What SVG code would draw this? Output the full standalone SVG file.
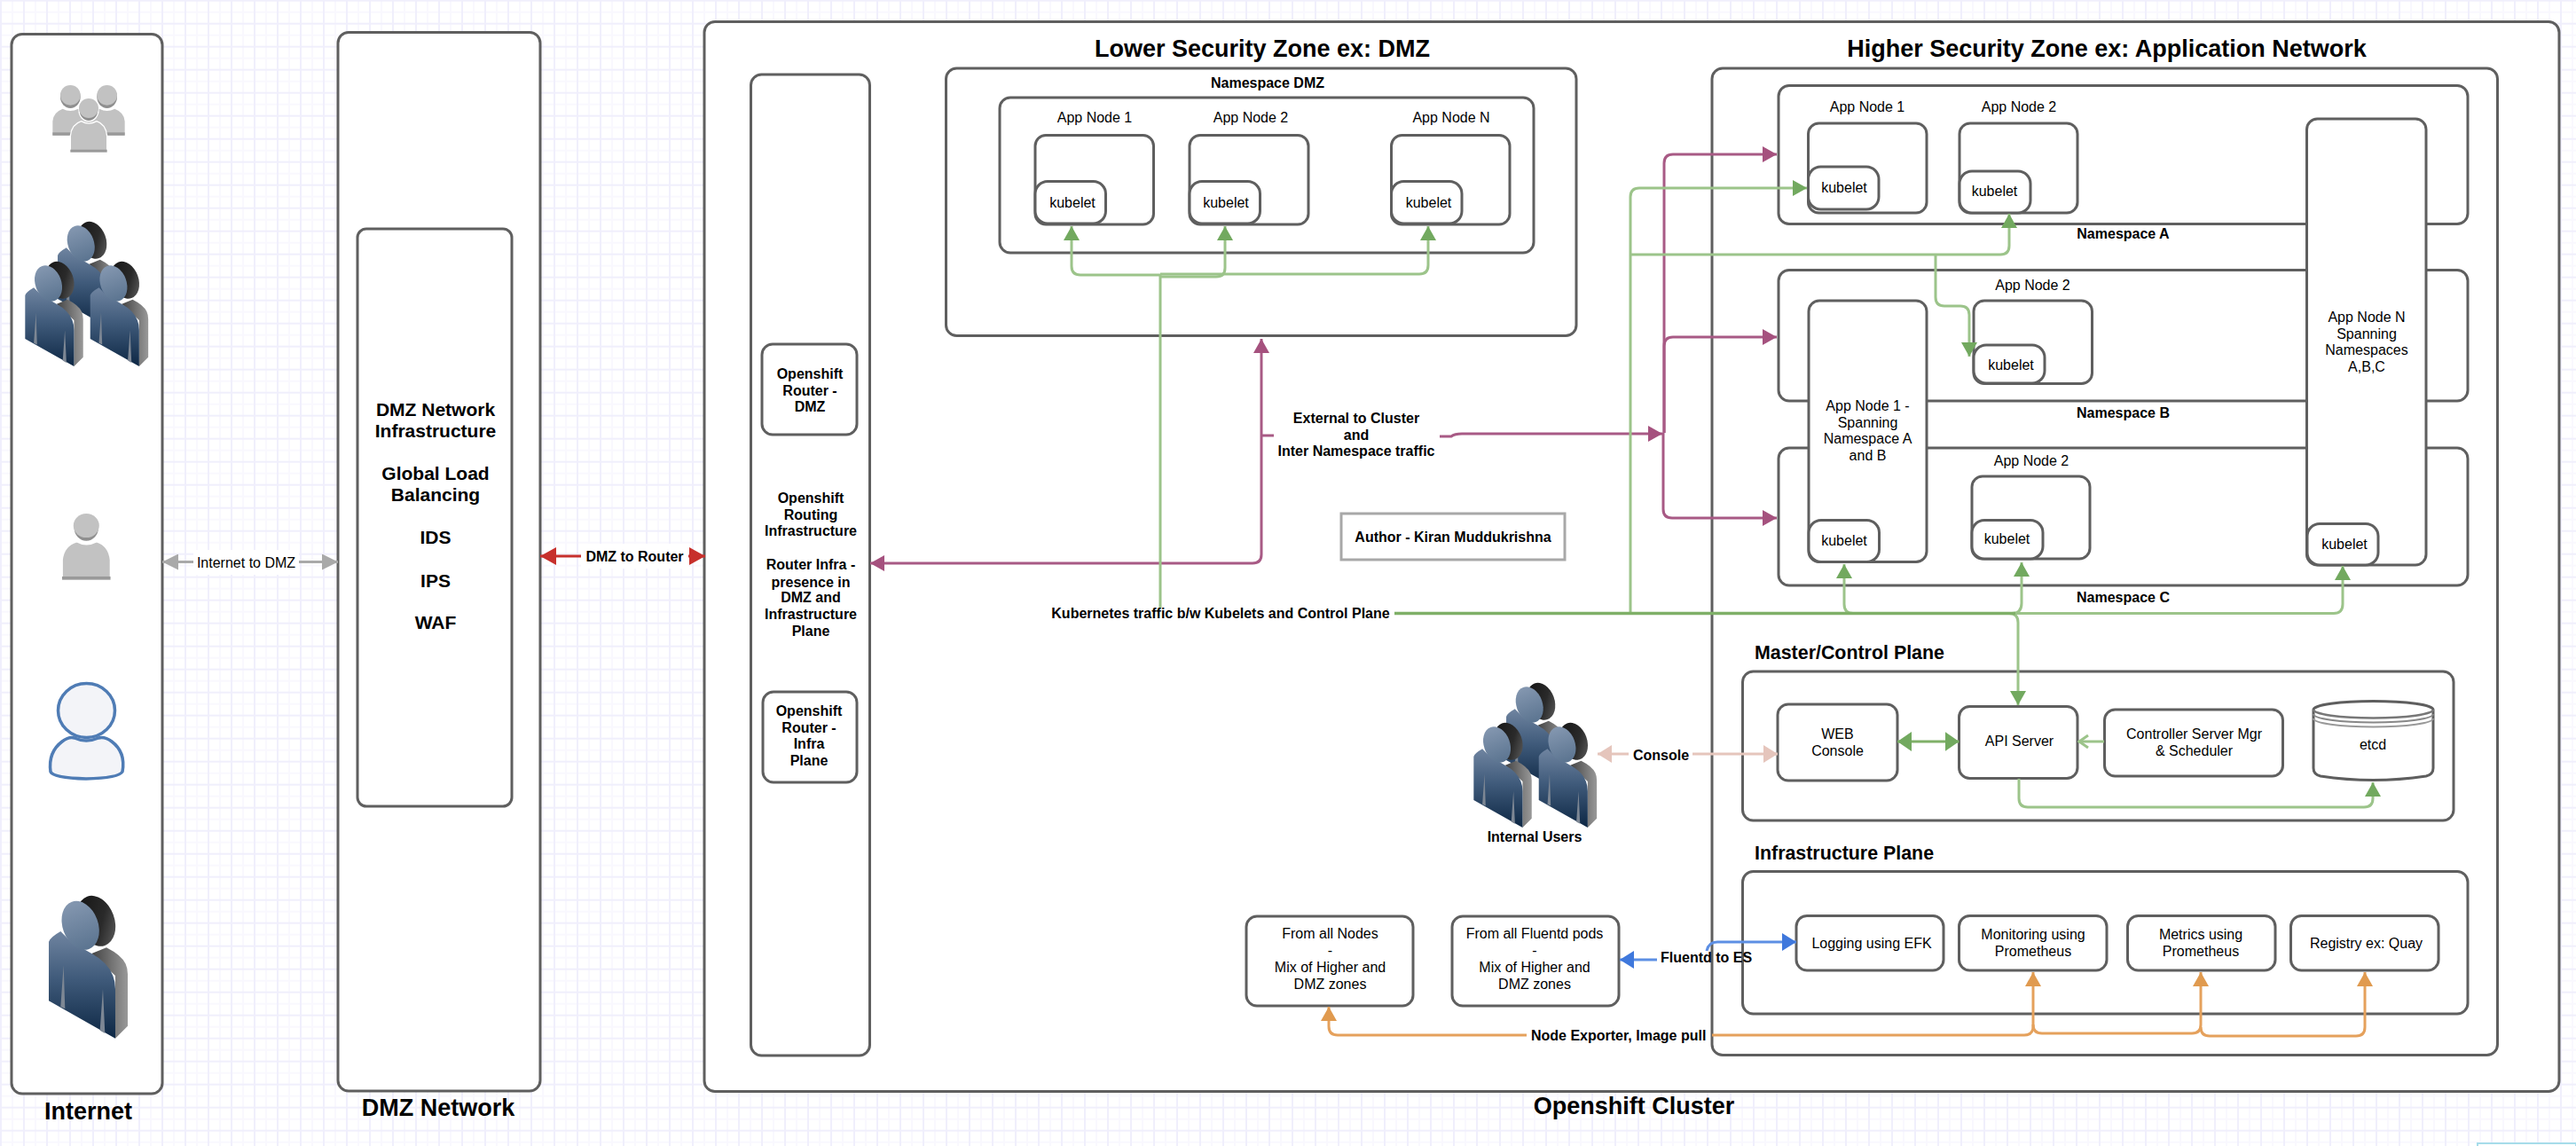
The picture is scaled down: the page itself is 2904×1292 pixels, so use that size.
<svg xmlns="http://www.w3.org/2000/svg" xmlns:xlink="http://www.w3.org/1999/xlink" width="2904" height="1292" viewBox="0 0 2904 1292">
<style>
text{font-family:"Liberation Sans",Arial,sans-serif;fill:#000;text-anchor:middle;font-size:16px}
.b{font-weight:bold}
.l{text-anchor:start}
.h{font-weight:bold;font-size:27px}
.m{font-weight:bold;font-size:21.4px}
.box{fill:#fff;stroke:#5e5e5e;stroke-width:3;filter:url(#soft)}
.c{fill:none;stroke-width:3}
.g{stroke:#9cc48a;marker-end:url(#hg)}
.gn{stroke:#9cc48a}
.gd{stroke:#7fb068;stroke-width:3.5}
.p{stroke:#a85a85;marker-end:url(#hp)}
.pn{stroke:#a85a85}
.o{stroke:#e5a15c;marker-end:url(#ho)}
.on{stroke:#e5a15c}
</style>
<defs>
<filter id="soft" x="-5%" y="-5%" width="110%" height="110%"><feGaussianBlur stdDeviation="0.6"/></filter>
<pattern id="grid" patternUnits="userSpaceOnUse" x="0" y="-0.33" width="26" height="26">
<rect width="26" height="26" fill="#fff"/>
<rect x="13" width="2" height="26" fill="#f9f8fe"/><rect y="13" width="26" height="2" fill="#f9f8fe"/>
<rect width="2" height="26" fill="#f0effc"/><rect width="26" height="2" fill="#f0effc"/>
</pattern>
<marker id="hg" markerUnits="userSpaceOnUse" markerWidth="16" markerHeight="18" viewBox="0 0 16 18" refX="16" refY="9" orient="auto-start-reverse"><path d="M0,0L16,9L0,18Z" fill="#72a95f"/></marker>
<marker id="hp" markerUnits="userSpaceOnUse" markerWidth="16" markerHeight="18" viewBox="0 0 16 18" refX="16" refY="9" orient="auto-start-reverse"><path d="M0,0L16,9L0,18Z" fill="#a5517e"/></marker>
<marker id="ho" markerUnits="userSpaceOnUse" markerWidth="16" markerHeight="18" viewBox="0 0 16 18" refX="16" refY="9" orient="auto-start-reverse"><path d="M0,0L16,9L0,18Z" fill="#e09a4f"/></marker>
<marker id="hgy" markerUnits="userSpaceOnUse" markerWidth="18" markerHeight="18" viewBox="0 0 18 18" refX="18" refY="9" orient="auto-start-reverse"><path d="M0,0L18,9L0,18Z" fill="#a9a9a9"/></marker>
<marker id="hr" markerUnits="userSpaceOnUse" markerWidth="18" markerHeight="20" viewBox="0 0 18 20" refX="18" refY="10" orient="auto-start-reverse"><path d="M0,0L18,10L0,20Z" fill="#c7302c"/></marker>
<marker id="hl" markerUnits="userSpaceOnUse" markerWidth="16" markerHeight="20" viewBox="0 0 16 20" refX="16" refY="10" orient="auto-start-reverse"><path d="M0,0L16,10L0,20Z" fill="#e5c5bc"/></marker>
<marker id="hb" markerUnits="userSpaceOnUse" markerWidth="16" markerHeight="20" viewBox="0 0 16 20" refX="16" refY="10" orient="auto-start-reverse"><path d="M0,0L16,10L0,20Z" fill="#3f78dc"/></marker>
<marker id="hv" markerUnits="userSpaceOnUse" markerWidth="13" markerHeight="16" viewBox="0 0 13 16" refX="12" refY="8" orient="auto"><path d="M1,1L11,8L1,15" fill="none" stroke="#9cc48a" stroke-width="3"/></marker>
<marker id="hd" markerUnits="userSpaceOnUse" markerWidth="16" markerHeight="22" viewBox="0 0 16 22" refX="16" refY="11" orient="auto-start-reverse"><path d="M0,0L16,11L0,22Z" fill="#72a95f"/></marker>
<linearGradient id="gf" x1="0" y1="0" x2="0" y2="1"><stop offset="0" stop-color="#6f84a0"/><stop offset="0.45" stop-color="#3f5a7a"/><stop offset="1" stop-color="#0d2744"/></linearGradient>
<linearGradient id="gh" x1="0" y1="0" x2="0" y2="1"><stop offset="0" stop-color="#8497b0"/><stop offset="1" stop-color="#5b7490"/></linearGradient>
<linearGradient id="gb" x1="0" y1="0" x2="1" y2="1"><stop offset="0" stop-color="#111"/><stop offset="0.6" stop-color="#2a2a2a"/><stop offset="1" stop-color="#666"/></linearGradient>
<linearGradient id="gs" x1="0" y1="0" x2="1" y2="0"><stop offset="0" stop-color="#444"/><stop offset="1" stop-color="#999"/></linearGradient>
<g id="person">
<ellipse cx="205" cy="115" rx="62" ry="88" transform="rotate(-20 205 115)" fill="url(#gb)"/>
<path d="M190,225L240,205Q290,230 305,260Q312,275 312,295V470L270,512V300Z" fill="url(#gs)"/>
<path d="M45,385V185Q50,170 85,150L120,185L190,225Q245,255 262,300Q270,320 270,345V512Z" fill="url(#gf)"/>
<path d="M95,265L85,405L100,412Z M228,345L218,485L235,495Z" fill="#7d8794"/>
<ellipse cx="152" cy="130" rx="60" ry="85" transform="rotate(-20 152 130)" fill="url(#gh)"/>
</g>
<g id="crowd">
<use xlink:href="#person" transform="translate(54 242.6) scale(.245)"/>
<use xlink:href="#person" transform="translate(17.3 287.6) scale(.245)"/>
<use xlink:href="#person" transform="translate(90.7 287.6) scale(.245)"/>
</g>
<g id="gp">
<path d="M88,245V190Q92,150 125,140Q150,155 177,140Q208,150 212,190V245Z" fill="#c2c2c2" stroke="#fff" stroke-width="4"/>
<rect x="88" y="236" width="124" height="9" fill="#999"/>
<ellipse cx="150" cy="102" rx="33" ry="38" fill="#8f8f8f" stroke="#fff" stroke-width="4"/>
<ellipse cx="150" cy="96" rx="33" ry="33" fill="#c2c2c2"/>
</g>
</defs>
<rect id="background" width="2904" height="1292" fill="url(#grid)"/>
<rect id="fragment" x="2793" y="1289" width="111" height="10" fill="#fff" stroke="#a6dcea" stroke-width="2"/>

<g id="internet">
<rect class="box" x="13" y="38.5" width="170" height="1194.5" rx="12"/>
<g id="icon-group-grey" transform="translate(50 90) scale(.3333)">
<g id="gl"><path d="M28,188V140Q30,110 62,98Q88,112 114,98Q135,105 150,125V188Z" fill="#c2c2c2"/><rect x="28" y="178" width="62" height="10" fill="#999"/><ellipse cx="88" cy="58" rx="34" ry="38" fill="#8f8f8f"/><ellipse cx="88" cy="52" rx="34" ry="34" fill="#c2c2c2"/></g>
<path d="M272,188V140Q270,110 238,98Q212,112 186,98Q165,105 150,125V188Z" fill="#c2c2c2"/><rect x="210" y="178" width="62" height="10" fill="#999"/><ellipse cx="212" cy="58" rx="34" ry="38" fill="#8f8f8f"/><ellipse cx="212" cy="52" rx="34" ry="34" fill="#c2c2c2"/>
<use xlink:href="#gp"/>
</g>
<use id="icon-crowd" xlink:href="#crowd"/>
<use id="icon-grey-user" xlink:href="#gp" transform="translate(31.3 553.2) scale(.44 .41)"/>
<g id="icon-blue-user" fill="#f3f4f8" stroke="#4f7cb5" stroke-width="3.5">
<path d="M57,870Q54,848 70,836Q78,830 84,832Q97,838 111,832Q118,830 126,836Q142,848 138,870Q134,877 97,878Q60,877 57,870Z"/>
<ellipse cx="97.5" cy="801" rx="32" ry="30.5"/>
</g>
<use id="icon-user" xlink:href="#person" transform="translate(40 1000) scale(.3333)"/>
<text class="h" x="99.5" y="1261.5">Internet</text>
</g>

<g id="dmz-network">
<rect class="box" x="381" y="36.5" width="228" height="1193.5" rx="12"/>
<rect class="box" x="403" y="258" width="174" height="651" rx="10"/>
<text class="m" x="491" style="font-size:21px"><tspan x="491" y="468.5">DMZ Network</tspan><tspan x="491" y="493">Infrastructure</tspan><tspan x="491" y="541">Global Load</tspan><tspan x="491" y="565">Balancing</tspan><tspan x="491" y="613">IDS</tspan><tspan x="491" y="661.5">IPS</tspan><tspan x="491" y="709">WAF</tspan></text>
<text class="h" x="494" y="1257.5">DMZ Network</text>
</g>

<g id="openshift-cluster">
<rect class="box" x="794" y="24.5" width="2091" height="1206" rx="12"/>
<text class="h" x="1842" y="1256">Openshift Cluster</text>
<text class="h" x="1423" y="64">Lower Security Zone ex: DMZ</text>
<text class="h" x="2375" y="64">Higher Security Zone ex: Application Network</text>
</g>

<g id="router-infra">
<rect class="box" x="846.5" y="84" width="134" height="1106" rx="12"/>
<text class="b"><tspan x="914" y="567">Openshift</tspan><tspan x="914" y="586">Routing</tspan><tspan x="914" y="604">Infrastructure</tspan><tspan x="914" y="641.5">Router Infra -</tspan><tspan x="914" y="661.5">presence in</tspan><tspan x="914" y="679">DMZ and</tspan><tspan x="914" y="697.5">Infrastructure</tspan><tspan x="914" y="716.5">Plane</tspan></text>
</g>
<g id="router-dmz">
<rect class="box" x="859" y="388" width="107" height="102" rx="12"/>
<text class="b"><tspan x="913" y="427">Openshift</tspan><tspan x="913" y="446">Router -</tspan><tspan x="913" y="464">DMZ</tspan></text>
</g>
<g id="router-infra-plane">
<rect class="box" x="860" y="780" width="106" height="102" rx="12"/>
<text class="b"><tspan x="912" y="807">Openshift</tspan><tspan x="912" y="826">Router -</tspan><tspan x="912" y="844">Infra</tspan><tspan x="912" y="863">Plane</tspan></text>
</g>

<g id="namespace-dmz">
<rect class="box" x="1066.5" y="77" width="710.5" height="301.5" rx="12"/>
<text class="b" x="1429" y="99">Namespace DMZ</text>
<rect class="box" x="1127" y="110" width="602" height="175" rx="12"/>
</g>
<g id="dmz-node-1">
<text x="1234" y="138">App Node 1</text>
<rect class="box" x="1167" y="152.5" width="133.5" height="100.5" rx="12"/>
<rect class="box" x="1167" y="204.5" width="79.5" height="47.5" rx="14"/>
<text x="1209" y="234">kubelet</text>
</g>
<g id="dmz-node-2">
<text x="1410" y="138">App Node 2</text>
<rect class="box" x="1341" y="152.5" width="134" height="100.5" rx="12"/>
<rect class="box" x="1341" y="204.5" width="79.5" height="47.5" rx="14"/>
<text x="1382" y="234">kubelet</text>
</g>
<g id="dmz-node-n">
<text x="1636" y="138">App Node N</text>
<rect class="box" x="1568.5" y="152.5" width="133.5" height="100.5" rx="12"/>
<rect class="box" x="1568.5" y="204.5" width="79.5" height="47.5" rx="14"/>
<text x="1610.5" y="234">kubelet</text>
</g>

<g id="author">
<rect x="1512" y="579" width="252" height="52" fill="#fff" stroke="#a8a8a8" stroke-width="3"/>
<text class="b" x="1638" y="611">Author - Kiran Muddukrishna</text>
</g>

<g id="higher-zone">
<rect class="box" x="1930" y="77" width="885.5" height="1112.5" rx="12"/>
</g>
<g id="namespace-a">
<rect class="box" x="2005" y="96.5" width="777" height="156" rx="12"/>
<text class="b" x="2393.5" y="269">Namespace A</text>
</g>
<g id="namespace-b">
<rect class="box" x="2005" y="304.5" width="777" height="147.5" rx="12"/>
<text class="b" x="2393.5" y="471">Namespace B</text>
</g>
<g id="namespace-c">
<rect class="box" x="2005" y="505" width="777" height="155" rx="12"/>
<text class="b" x="2393.5" y="678.5">Namespace C</text>
</g>
<g id="a-node-1">
<text x="2105" y="126">App Node 1</text>
<rect class="box" x="2038.5" y="139" width="133.5" height="101" rx="12"/>
<rect class="box" x="2038.5" y="188" width="79.5" height="48" rx="14"/>
<text x="2079" y="216.5">kubelet</text>
</g>
<g id="a-node-2">
<text x="2276" y="126">App Node 2</text>
<rect class="box" x="2209" y="139" width="133" height="101" rx="12"/>
<rect class="box" x="2209" y="193" width="80" height="47" rx="14"/>
<text x="2248.5" y="221">kubelet</text>
</g>
<g id="b-node-2">
<text x="2291.5" y="327">App Node 2</text>
<rect class="box" x="2225" y="339" width="133.5" height="93.5" rx="12"/>
<rect class="box" x="2225" y="389" width="80" height="43" rx="14"/>
<text x="2267" y="416.5">kubelet</text>
</g>
<g id="spanning-node-1">
<rect class="box" x="2039" y="339" width="133" height="294.5" rx="12"/>
<text><tspan x="2105.5" y="463">App Node 1 -</tspan><tspan x="2105.5" y="482">Spanning</tspan><tspan x="2105.5" y="500">Namespace A</tspan><tspan x="2105.5" y="519">and B</tspan></text>
<rect class="box" x="2039" y="586.5" width="79.5" height="47" rx="14"/>
<text x="2079" y="615">kubelet</text>
</g>
<g id="c-node-2">
<text x="2290" y="524.5">App Node 2</text>
<rect class="box" x="2223" y="537" width="133" height="93" rx="12"/>
<rect class="box" x="2223" y="586.5" width="80" height="43.5" rx="14"/>
<text x="2262.5" y="612.5">kubelet</text>
</g>
<g id="spanning-node-n">
<rect class="box" x="2600.5" y="134" width="134.5" height="503" rx="12"/>
<text><tspan x="2668" y="362.5">App Node N</tspan><tspan x="2668" y="382">Spanning</tspan><tspan x="2668" y="400">Namespaces</tspan><tspan x="2668" y="419">A,B,C</tspan></text>
<rect class="box" x="2601" y="590.5" width="80" height="46.5" rx="14"/>
<text x="2643" y="619">kubelet</text>
</g>

<g id="master-plane">
<text class="m l" x="1978" y="742.5">Master/Control Plane</text>
<rect class="box" x="1964.5" y="757" width="801.5" height="168" rx="12"/>
</g>
<g id="web-console">
<rect class="box" x="2004" y="794" width="135" height="86" rx="12"/>
<text><tspan x="2071.5" y="832.5">WEB</tspan><tspan x="2071.5" y="852">Console</tspan></text>
</g>
<g id="api-server">
<rect class="box" x="2208.5" y="796.5" width="133.5" height="81" rx="12"/>
<text x="2276.5" y="840.5">API Server</text>
</g>
<g id="controller">
<rect class="box" x="2372.5" y="800" width="201" height="75" rx="12"/>
<text><tspan x="2473.5" y="832.5">Controller Server Mgr</tspan><tspan x="2473.5" y="852">&amp; Scheduler</tspan></text>
</g>
<g id="etcd" fill="none" stroke="#5e5e5e" stroke-width="2.5">
<path d="M2608,800A67.5,9.5 0 0 1 2743,800V866Q2743,873 2735,875Q2675,884 2616,875Q2608,873 2608,866Z" fill="#fff" stroke-width="3"/>
<path d="M2608,800A67.5,9.5 0 0 0 2743,800" stroke="#777"/>
<path d="M2608,805A67.5,9.5 0 0 0 2743,805" stroke="#888" stroke-width="2"/>
<path d="M2608,810A67.5,9.5 0 0 0 2743,810" stroke="#999" stroke-width="2"/>
<text x="2675" y="844.5" style="stroke:none">etcd</text>
</g>

<g id="infra-plane">
<text class="m l" x="1978" y="969">Infrastructure Plane</text>
<rect class="box" x="1964.5" y="982.5" width="817.5" height="160.5" rx="12"/>
</g>
<g id="logging">
<rect class="box" x="2025" y="1032.5" width="166" height="61.5" rx="12"/>
<text x="2110" y="1069">Logging using EFK</text>
</g>
<g id="monitoring">
<rect class="box" x="2208.5" y="1032.5" width="166.5" height="61.5" rx="12"/>
<text><tspan x="2292" y="1059">Monitoring using</tspan><tspan x="2292" y="1078">Prometheus</tspan></text>
</g>
<g id="metrics">
<rect class="box" x="2398.5" y="1032.5" width="166.5" height="61.5" rx="12"/>
<text><tspan x="2481" y="1059">Metrics using</tspan><tspan x="2481" y="1078">Prometheus</tspan></text>
</g>
<g id="registry">
<rect class="box" x="2582.5" y="1032.5" width="166.5" height="61.5" rx="12"/>
<text x="2667.5" y="1069">Registry ex: Quay</text>
</g>

<g id="internal-users">
<use xlink:href="#crowd" transform="translate(1633 520)"/>
<text class="b" x="1730" y="949">Internal Users</text>
</g>
<g id="from-all-nodes">
<rect class="box" x="1405" y="1033" width="188" height="101" rx="12"/>
<text><tspan x="1499.5" y="1058">From all Nodes</tspan><tspan x="1499.5" y="1076.5">-</tspan><tspan x="1499.5" y="1096">Mix of Higher and</tspan><tspan x="1499.5" y="1115">DMZ zones</tspan></text>
</g>
<g id="from-fluentd">
<rect class="box" x="1637" y="1033" width="188" height="101" rx="12"/>
<text><tspan x="1730" y="1058">From all Fluentd pods</tspan><tspan x="1730" y="1076.5">-</tspan><tspan x="1730" y="1096">Mix of Higher and</tspan><tspan x="1730" y="1115">DMZ zones</tspan></text>
</g>

<g id="connectors">
<rect x="218" y="620" width="119" height="28" fill="#fff"/>
<rect x="655" y="613" width="121" height="28" fill="#fff"/>
<path class="c" d="M218,633.5H183" stroke="#a9a9a9" marker-end="url(#hgy)"/>
<path class="c" d="M337,633.5H381" stroke="#a9a9a9" marker-end="url(#hgy)"/>
<path class="c" d="M655,627H609" stroke="#c7302c" marker-end="url(#hr)"/>
<path class="c" d="M776,627H795" stroke="#c7302c" marker-end="url(#hr)"/>
<text x="277.5" y="640">Internet to DMZ</text>
<text class="b" x="715.5" y="633">DMZ to Router</text>

<path class="c pn" d="M1436,491H1422"/>
<path class="c p" d="M1422,491V382"/>
<path class="c p" d="M1422,491V625Q1422,635 1412,635H981"/>
<path class="c p" d="M1623,492H1636Q1640,489 1648,489H1874"/>
<path class="c p" d="M1876,488V184Q1876,174 1886,174H2003"/>
<path class="c p" d="M1876,488V390Q1876,380 1886,380H2003"/>
<path class="c p" d="M1875,488V574Q1875,584 1885,584H2003"/>
<text class="b"><tspan x="1529" y="477">External to Cluster</tspan><tspan x="1529" y="496">and</tspan><tspan x="1529" y="513.5">Inter Namespace traffic</tspan></text>

<path class="c gn" d="M1308,685V310"/>
<path class="c g" d="M1308,310H1218Q1208,310 1208,300V255"/>
<path class="c g" d="M1308,312H1371Q1381,312 1381,302V255"/>
<path class="c g" d="M1308,309H1600Q1610,309 1610,299V255"/>
<text class="b" x="1376" y="697">Kubernetes traffic b/w Kubelets and Control Plane</text>
<path class="c gn" d="M2268,691.5H2631Q2641,691.5 2641,681V638" marker-end="url(#hg)"/>
<path class="c g" d="M1838,691V222Q1838,212 1848,212H2037"/>
<path class="c g" d="M1838,287H2255Q2265,287 2265,277V241"/>
<path class="c g" d="M2182,287V335Q2182,345 2192,345H2210Q2220,345 2220,355V402"/>
<path class="c g" d="M2089,691.5Q2079,691.5 2079,681V636"/>
<path class="c g" d="M2268,691.5Q2279,691.5 2279,680V634"/>
<path class="c g" d="M2265,691.5Q2275,691.5 2275,702V795"/>
<path class="c gd" d="M1572,691.5H2272"/>
<path class="c" d="M2139,836H2208.5" stroke="#7fb068" stroke-width="4" marker-start="url(#hd)" marker-end="url(#hd)"/>
<path class="c" d="M2372,836H2343" stroke="#9cc48a" marker-end="url(#hv)"/>
<path class="c g" d="M2276,878V900Q2276,910 2286,910H2665Q2675,910 2675,900V882"/>

<path class="c" d="M1836,850H1801" stroke="#e5c5bc" marker-end="url(#hl)"/>
<path class="c" d="M1908,850H2004" stroke="#e5c5bc" marker-end="url(#hl)"/>
<text class="b l" x="1841" y="857">Console</text>

<path class="c" d="M1868,1082H1826" stroke="#5d8fe4" marker-end="url(#hb)"/>
<path class="c" d="M1924,1072Q1926,1062 1936,1062H2025" stroke="#5d8fe4" marker-end="url(#hb)"/>
<text class="b l" x="1872" y="1084.5">Fluentd to ES</text>

<path class="c o" d="M1721,1167H1508Q1498,1167 1498,1157V1135"/>
<path class="c o" d="M1930,1167H2282Q2292,1167 2292,1157V1096"/>
<path class="c o" d="M2292,1155Q2292,1165 2302,1165H2471Q2481,1165 2481,1155V1096"/>
<path class="c o" d="M2481,1158Q2481,1168 2491,1168H2656Q2666,1168 2666,1158V1096"/>
<text class="b l" x="1726" y="1173">Node Exporter, Image pull</text>
</g>
</svg>
